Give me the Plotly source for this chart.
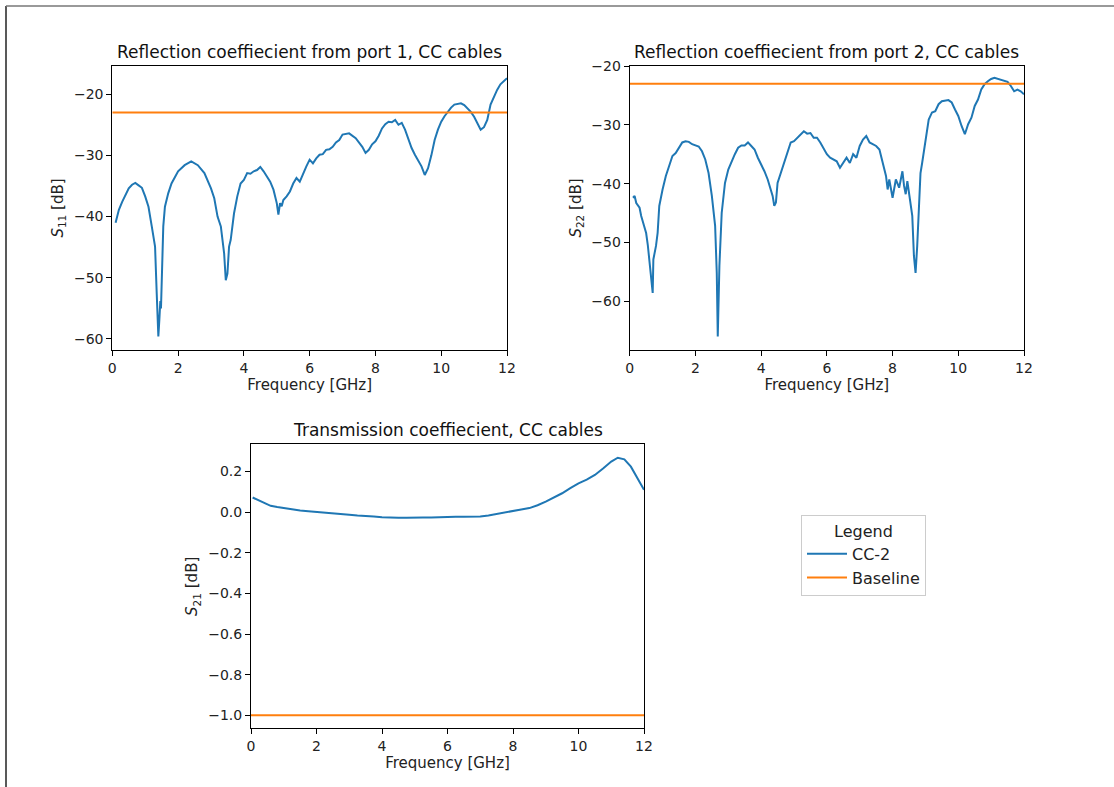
import plotly.graph_objects as go

# ---------------- data ----------------
freq_s11 = [0.1, 0.2, 0.3, 0.4, 0.5, 0.6, 0.7, 0.8, 0.9, 1.0, 1.1, 1.2, 1.3, 1.35, 1.4, 1.43, 1.46, 1.48, 1.5,
            1.55, 1.6, 1.7, 1.8, 1.9, 2.0, 2.2, 2.4, 2.6, 2.8, 3.0, 3.1, 3.2, 3.3, 3.4, 3.45, 3.5, 3.55, 3.6,
            3.7, 3.8, 3.9, 4.0, 4.1, 4.2, 4.3, 4.4, 4.5, 4.6, 4.7, 4.8, 4.9, 5.0, 5.05, 5.1, 5.15, 5.2, 5.3,
            5.4, 5.5, 5.6, 5.7, 5.8, 5.9, 6.0, 6.1, 6.2, 6.3, 6.4, 6.5, 6.6, 6.7, 6.8, 6.9, 7.0, 7.2, 7.4,
            7.6, 7.7, 7.8, 7.9, 8.0, 8.1, 8.2, 8.3, 8.4, 8.5, 8.6, 8.7, 8.8, 8.9, 9.0, 9.1, 9.2, 9.3, 9.4,
            9.5, 9.55, 9.6, 9.7, 9.8, 9.9, 10.0, 10.1, 10.2, 10.3, 10.4, 10.5, 10.6, 10.7, 10.8, 10.9, 11.0,
            11.1, 11.2, 11.3, 11.4, 11.5, 11.6, 11.7, 11.8, 11.9, 12.0]
s11 = [-41.0, -38.9, -37.6, -36.6, -35.4, -34.8, -34.5, -34.9, -35.3, -36.7, -38.4, -41.6, -44.9, -52.5, -59.6,
       -56.9, -53.8, -55.0, -50.4, -41.6, -38.4, -36.2, -34.6, -33.5, -32.6, -31.6, -31.0, -31.6, -32.9, -35.4,
       -37.0, -40.0, -41.6, -46.0, -50.4, -49.3, -44.9, -43.8, -39.5, -36.7, -34.6, -34.0, -32.9, -33.0, -32.6,
       -32.4, -31.9, -32.6, -33.5, -34.3, -35.6, -37.8, -39.7, -37.8, -38.3, -37.3, -36.7, -35.9, -34.6, -33.7,
       -34.3, -32.9, -31.8, -30.7, -31.3, -30.5, -29.9, -29.8, -29.1, -29.0, -28.6, -27.9, -27.5, -26.6, -26.4,
       -27.2, -28.6, -29.6, -29.1, -28.2, -27.7, -26.8, -25.6, -24.9, -24.5, -24.6, -24.2, -25.0, -24.7, -25.8,
       -27.5, -28.8, -29.9, -30.9, -31.8, -33.2, -32.7, -32.1, -30.0, -27.5, -25.8, -24.5, -23.6, -22.8, -22.2,
       -21.7, -21.6, -21.5, -21.8, -22.3, -22.9, -23.7, -24.8, -25.8, -25.4, -24.2, -21.7, -20.4, -19.3, -18.4,
       -17.9, -17.4]

freq_s22 = [0.1, 0.15, 0.2, 0.3, 0.35, 0.4, 0.5, 0.55, 0.6, 0.65, 0.7, 0.72, 0.8, 0.85, 0.9, 1.0, 1.1, 1.2, 1.3,
            1.4, 1.5, 1.6, 1.7, 1.8, 1.9, 2.0, 2.1, 2.2, 2.3, 2.4, 2.5, 2.6, 2.65, 2.68, 2.7, 2.73, 2.8, 2.9,
            3.0, 3.1, 3.2, 3.3, 3.4, 3.5, 3.6, 3.7, 3.8, 3.9, 4.0, 4.1, 4.2, 4.3, 4.35, 4.4, 4.45, 4.5, 4.6,
            4.7, 4.8, 4.9, 5.0, 5.1, 5.2, 5.3, 5.4, 5.5, 5.6, 5.7, 5.8, 5.9, 6.0, 6.1, 6.2, 6.3, 6.4, 6.5,
            6.6, 6.7, 6.8, 6.9, 7.0, 7.1, 7.2, 7.3, 7.4, 7.5, 7.6, 7.7, 7.8, 7.85, 7.9, 8.0, 8.05, 8.1, 8.2,
            8.3, 8.35, 8.4, 8.45, 8.5, 8.6, 8.65, 8.7, 8.75, 8.8, 8.85, 8.9, 9.0, 9.1, 9.2, 9.3, 9.4, 9.5,
            9.7, 9.8, 9.9, 10.0, 10.1, 10.2, 10.3, 10.4, 10.5, 10.6, 10.7, 10.8, 10.9, 11.0, 11.1, 11.2, 11.3,
            11.4, 11.5, 11.6, 11.7, 11.8, 11.9, 12.0]
s22 = [-42.4, -42.1, -43.3, -44.1, -45.5, -46.4, -48.4, -50.4, -52.9, -55.2, -58.6, -52.9, -50.6, -48.4, -43.8,
       -41.0, -38.7, -37.0, -35.3, -34.8, -33.9, -33.0, -32.8, -32.9, -33.3, -33.5, -33.7, -34.5, -35.9, -38.2,
       -42.1, -47.2, -55.2, -66.0, -58.6, -54.0, -45.0, -39.9, -37.6, -36.2, -35.0, -33.9, -33.5, -33.5, -33.0,
       -33.6, -34.2, -35.6, -36.7, -37.9, -39.3, -41.3, -42.1, -43.8, -43.2, -39.9, -38.2, -36.2, -34.5, -33.0,
       -32.8, -32.2, -31.6, -31.1, -31.5, -31.4, -32.2, -32.2, -33.0, -33.9, -35.0, -35.6, -35.9, -36.2, -37.3,
       -36.5, -35.6, -36.5, -35.0, -35.6, -33.6, -32.5, -31.9, -33.0, -33.3, -33.6, -34.2, -36.5, -38.7, -41.0,
       -39.3, -42.4, -40.4, -39.3, -40.7, -37.9, -40.4, -41.8, -39.6, -41.6, -45.5, -52.3, -55.2, -50.6, -43.3,
       -38.2, -36.5, -32.5, -29.1, -27.9, -27.7, -26.5, -26.0, -25.8, -26.2, -27.4, -28.5, -30.2, -31.6, -29.9,
       -28.8, -26.8, -25.7, -24.0, -23.1, -22.6, -22.2, -22.0, -22.2, -22.4, -22.6, -22.7, -23.4, -24.3, -24.0,
       -24.3, -24.8]

freq_s21 = [0.05, 0.2, 0.4, 0.6, 0.8, 1.0, 1.25, 1.5, 1.75, 2.0, 2.25, 2.5, 2.75, 3.0, 3.25, 3.5, 3.75, 4.0,
            4.25, 4.5, 4.75, 5.0, 5.25, 5.5, 5.75, 6.0, 6.25, 6.5, 6.75, 7.0, 7.25, 7.5, 7.75, 8.0, 8.25,
            8.5, 8.75, 9.0, 9.25, 9.5, 9.75, 10.0, 10.25, 10.5, 10.75, 11.0, 11.2, 11.4, 11.6, 11.8, 12.0]
s21 = [0.072, 0.061, 0.044, 0.031, 0.025, 0.020, 0.013, 0.008, 0.005, 0.002, -0.003, -0.007, -0.010, -0.013,
       -0.017, -0.021, -0.022, -0.025, -0.027, -0.028, -0.027, -0.028, -0.026, -0.026, -0.024, -0.025, -0.023,
       -0.023, -0.022, -0.021, -0.016, -0.008, -0.001, 0.008, 0.013, 0.020, 0.034, 0.052, 0.072, 0.093, 0.118,
       0.142, 0.160, 0.183, 0.215, 0.249, 0.268, 0.260, 0.224, 0.167, 0.110]

base_freq = [0, 12]
baseline_refl = [-23, -23]
baseline_trans = [-1, -1]

# ---------------- figure ----------------
W, H = 1114, 787
BLUE = "#1f77b4"
ORANGE = "#ff7f0e"
FONT = "DejaVu Sans"
TICK_SIZE = 14
LABEL_SIZE = 15
TITLE_SIZE = 17

def px(x):
    return x / W

def py(y):
    return 1 - y / H

fig = go.Figure()

dom = {
    1: dict(x=[px(112.3), px(507)], y=[py(350), py(66)]),
    2: dict(x=[px(629.7), px(1024)], y=[py(350), py(66)]),
    3: dict(x=[px(251), px(644)], y=[py(728.3), py(444.3)]),
}

series = [
    (1, freq_s11, s11, baseline_refl),
    (2, freq_s22, s22, baseline_refl),
    (3, freq_s21, s21, baseline_trans),
]
for i, fx, fy, bl in series:
    ax = "" if i == 1 else str(i)
    fig.add_trace(go.Scatter(x=fx, y=fy, mode="lines", name="CC-2",
                             line=dict(color=BLUE, width=2),
                             xaxis="x" + ax, yaxis="y" + ax, showlegend=(i == 1)))
    fig.add_trace(go.Scatter(x=base_freq, y=bl, mode="lines", name="Baseline",
                             line=dict(color=ORANGE, width=2),
                             xaxis="x" + ax, yaxis="y" + ax, showlegend=(i == 1)))

axis_common = dict(showgrid=False, zeroline=False, showline=True, linecolor="black", linewidth=1,
                   mirror=True, ticks="outside", ticklen=5, tickcolor="black", automargin=False,
                   tickfont=dict(family=FONT, size=TICK_SIZE, color="#222222"))

yranges = {1: [-61.8, -15.4], 2: [-68.3, -20.0], 3: [-1.064, 0.334]}
ytitles = {1: "<i>S</i><sub>11</sub> [dB]", 2: "<i>S</i><sub>22</sub> [dB]", 3: "<i>S</i><sub>21</sub> [dB]"}
yticks = {1: [-60, -50, -40, -30, -20], 2: [-60, -50, -40, -30, -20],
          3: [-1.0, -0.8, -0.6, -0.4, -0.2, 0.0, 0.2]}

for i in (1, 2, 3):
    ax = "" if i == 1 else str(i)
    fig.layout["xaxis" + ax] = dict(
        domain=dom[i]["x"], anchor="y" + ax, range=[0, 12], tickvals=[0, 2, 4, 6, 8, 10, 12],
        title=dict(text="Frequency [GHz]", font=dict(family=FONT, size=LABEL_SIZE, color="#222222"), standoff=2),
        **axis_common)
    fig.layout["yaxis" + ax] = dict(
        domain=dom[i]["y"], anchor="x" + ax, range=yranges[i], tickvals=yticks[i],
        tickformat=".1f" if i == 3 else "d",
        title=dict(text=ytitles[i], font=dict(family=FONT, size=LABEL_SIZE, color="#222222"), standoff=6),
        **axis_common)

titles = {1: "Reflection coeffiecient from port 1, CC cables",
          2: "Reflection coeffiecient from port 2, CC cables",
          3: "Transmission coeffiecient, CC cables"}
for i in (1, 2, 3):
    fig.add_annotation(text=titles[i], xref="paper", yref="paper",
                       x=(dom[i]["x"][0] + dom[i]["x"][1]) / 2, y=dom[i]["y"][1],
                       xanchor="center", yanchor="bottom", yshift=2, showarrow=False,
                       font=dict(family=FONT, size=TITLE_SIZE, color="#111111"))

# outer frame lines
fig.add_shape(type="line", xref="paper", yref="paper", x0=px(6), x1=px(6), y0=py(6), y1=0,
              line=dict(color="#222222", width=1.5))
fig.add_shape(type="line", xref="paper", yref="paper", x0=px(6), x1=1, y0=py(6), y1=py(6),
              line=dict(color="#777777", width=1.5))

fig.update_layout(
    template="none",
    width=W, height=H, margin=dict(l=0, r=0, t=0, b=0, pad=0),
    paper_bgcolor="white", plot_bgcolor="white",
    font=dict(family=FONT, color="black"),
    legend=dict(x=px(801), y=py(515), xanchor="left", yanchor="top",
                bordercolor="#cccccc", borderwidth=1, bgcolor="white",
                font=dict(family=FONT, size=16, color="#222222"),
                title=dict(text="Legend", side="top center", font=dict(family=FONT, size=16, color="#222222")),
                tracegroupgap=0, itemwidth=40),
)

fig.write_html("out.html")
